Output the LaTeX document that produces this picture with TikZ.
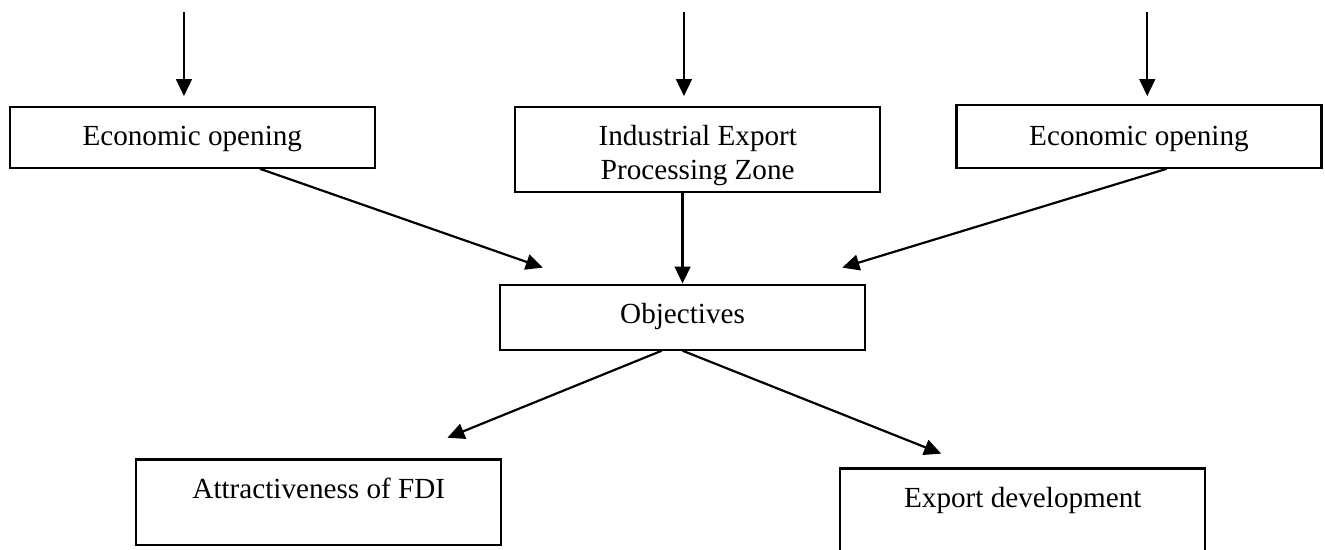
\documentclass[tikz,border=0pt]{standalone}
\usepackage{fontspec}
\setmainfont{Liberation Serif}
\usepackage{tikz}
\usetikzlibrary{
    arrows.meta,
    positioning,
    calc
}
\tikzstyle{arrow} = [-{Triangle[length=7pt,width=6.5pt]}, line width=0.9pt]
\tikzstyle{caja} = [draw, line width=0.9pt, anchor=north, minimum width=5.28cm, inner xsep=0pt, inner ysep=0pt, text height=0.56cm]

\begin{document}
\begin{tikzpicture}[font=\fontsize{12pt}{14pt}\selectfont]

\useasboundingbox (0,0) rectangle (19.16,7.95);

% Cajas
\node[caja, text depth=0.32cm] (open1) at (2.78,6.42) {Economic opening};
\node[caja, text depth=0.67cm] (zone) at (10.09,6.42) {\begin{tabular}[t]{@{}c@{}}Industrial Export\\Processing Zone\end{tabular}};
\node[caja, text height=0.59cm, text depth=0.32cm] (open2) at (16.47,6.45) {Economic opening};
\node[caja, text depth=0.38cm] (goal) at (9.87,3.85) {Objectives};
\node[caja, text depth=0.68cm] (fdi) at (4.61,1.32) {Attractiveness of FDI};
\node[caja, text depth=0.67cm] (export) at (14.79,1.19) {Export development};

% Entradas
\coordinate (in1) at (2.66,7.77);
\coordinate (in2) at (9.89,7.77);
\coordinate (in3) at (16.59,7.77);
\draw[arrow] (in1) -- ++(0,-1.21);
\draw[arrow] (in2) -- ++(0,-1.21);
\draw[arrow] (in3) -- ++(0,-1.21);

% Flechas
\draw[arrow] ([xshift=0.98cm]open1.south) -- ([xshift=-2.02cm,yshift=0.23cm]goal.north);
\draw[arrow] (goal.north |- zone.south) -- (goal.north);
\draw[arrow] ([xshift=0.40cm]open2.south) -- ([xshift=2.31cm,yshift=0.23cm]goal.north);
\draw[arrow] ([xshift=-0.30cm]goal.south) -- ([xshift=1.86cm,yshift=0.30cm]fdi.north);
\draw[arrow] (goal.south) -- ([xshift=-1.18cm,yshift=0.20cm]export.north);

\end{tikzpicture}
\end{document}
